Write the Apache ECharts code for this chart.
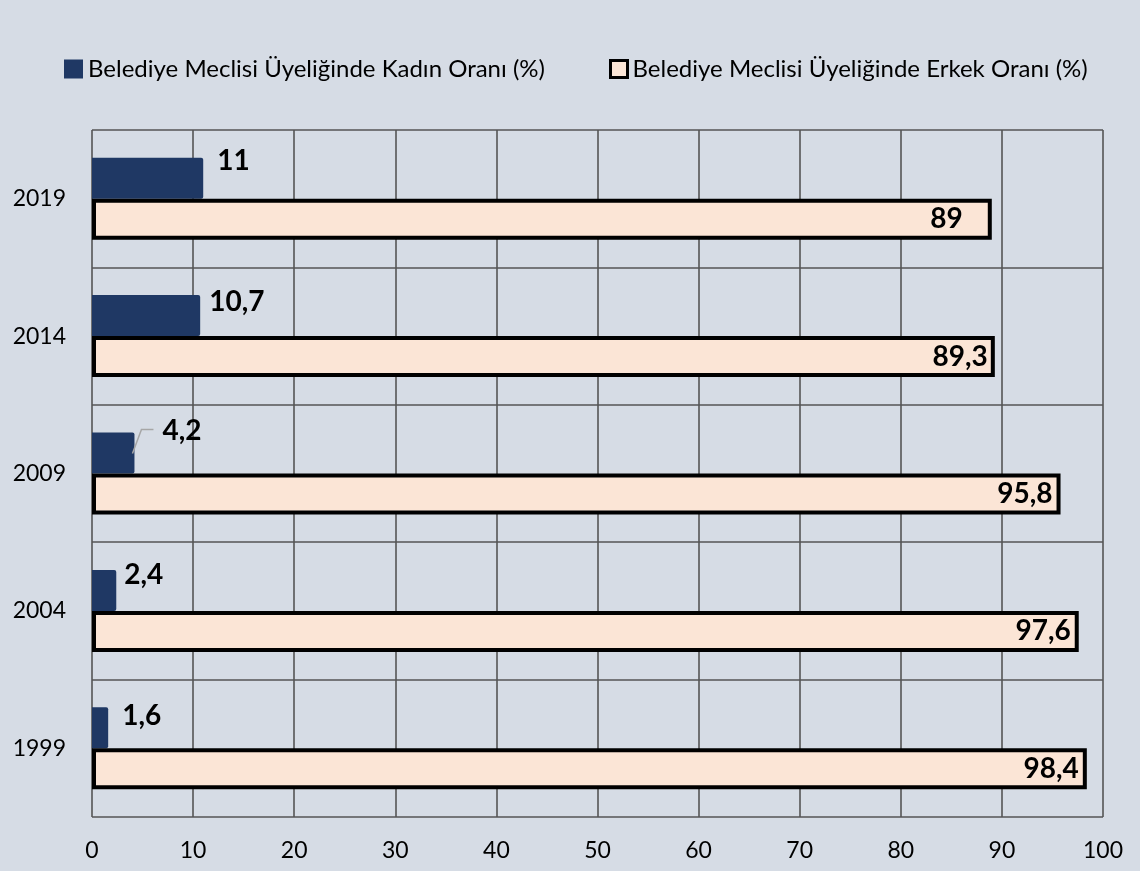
<!DOCTYPE html>
<html>
<head>
<meta charset="utf-8">
<script src="https://cdn.jsdelivr.net/npm/echarts@6/dist/echarts.min.js"></script>
<style>
html,body{margin:0;padding:0;background:#d6dce5;}
#chart{width:1140px;height:871px;}
</style>
</head>
<body>
<div id="chart"></div>
<script>
const years = ['1999', '2004', '2009', '2014', '2019'];
const kadinName = 'Belediye Meclisi Üyeliğinde Kadın Oranı (%)';
const erkekName = 'Belediye Meclisi Üyeliğinde Erkek Oranı (%)';
const kadinValues = [1.6, 2.4, 4.2, 10.7, 11];
const erkekValues = [98.4, 97.6, 95.8, 89.3, 89];
const xTicks = [0, 10, 20, 30, 40, 50, 60, 70, 80, 90, 100];

// label nudges (styling only)
const kadinLabelShift = [[6, -12], [0, -15], [20, -22], [1, -14], [6, -17]];
const erkekLabelShift = [[0, 0], [0, 0], [0, 0], [1, 0], [-21, 0]];
const leaderIndex = 2; // the Kadın label that carries a leader line

const FONT = 'Lato';
const fmt = p => String(p.value).replace('.', ',');

const chart = echarts.init(document.getElementById('chart'), null, {renderer: 'canvas'});
chart.setOption({
  backgroundColor: '#d6dce5',
  textStyle: {fontFamily: FONT},
  animation: false,
  legend: [
    {
      left: 59, top: 52, itemWidth: 19, itemHeight: 19, icon: 'rect',
      data: [kadinName],
      textStyle: {fontFamily: FONT, fontSize: 24, color: '#000'}
    },
    {
      left: 604, top: 52, itemWidth: 17, itemHeight: 17, icon: 'rect',
      data: [erkekName],
      itemStyle: {borderWidth: 3, borderColor: '#000'},
      textStyle: {fontFamily: FONT, fontSize: 24, color: '#000'}
    }
  ],
  grid: {left: 92, right: 37, top: 130, bottom: 54, containLabel: false},
  xAxis: {
    type: 'value', min: xTicks[0], max: xTicks[xTicks.length - 1], interval: 10,
    axisLine: {show: false}, axisTick: {show: false},
    axisLabel: {fontFamily: FONT, fontSize: 23, color: '#000', margin: 22},
    splitLine: {show: true, lineStyle: {color: '#555555', width: 1.6}}
  },
  yAxis: {
    type: 'category', data: years,
    axisLine: {show: false}, axisTick: {show: false},
    axisLabel: {fontFamily: FONT, fontSize: 23, color: '#000', margin: 26},
    splitLine: {show: true, interval: 0, lineStyle: {color: '#555555', width: 1.6}}
  },
  series: [
    {
      name: kadinName, type: 'bar', barWidth: 41, barGap: '0%',
      itemStyle: {color: '#1f3864', borderRadius: [0, 2, 2, 0]},
      data: kadinValues,
      label: {show: true, position: 'right', distance: 8, formatter: fmt,
        fontFamily: FONT, fontSize: 28, fontWeight: 'bold', color: '#000'},
      labelLayout: p => ({dx: kadinLabelShift[p.dataIndex][0], dy: kadinLabelShift[p.dataIndex][1]})
    },
    {
      name: erkekName, type: 'bar', barWidth: 41,
      itemStyle: {color: '#fbe5d6', borderColor: '#000', borderWidth: 4},
      data: erkekValues,
      label: {show: true, position: 'insideRight', distance: 8, formatter: fmt,
        fontFamily: FONT, fontSize: 28, fontWeight: 'bold', color: '#000'},
      labelLayout: p => ({dx: erkekLabelShift[p.dataIndex][0], dy: erkekLabelShift[p.dataIndex][1]})
    }
  ]
});

// leader line for the displaced 4,2 label, anchored through the library's scales
const end = chart.convertToPixel({gridIndex: 0}, [kadinValues[leaderIndex], years[leaderIndex]]);
chart.setOption({
  graphic: [{
    type: 'polyline', silent: true, z: 100,
    shape: {points: [[end[0] - 2, end[1] - 20], [end[0] + 7, end[1] - 44], [end[0] + 19, end[1] - 44]]},
    style: {stroke: '#a6a6a6', lineWidth: 1.5, fill: null}
  }]
});
</script>
</body>
</html>
